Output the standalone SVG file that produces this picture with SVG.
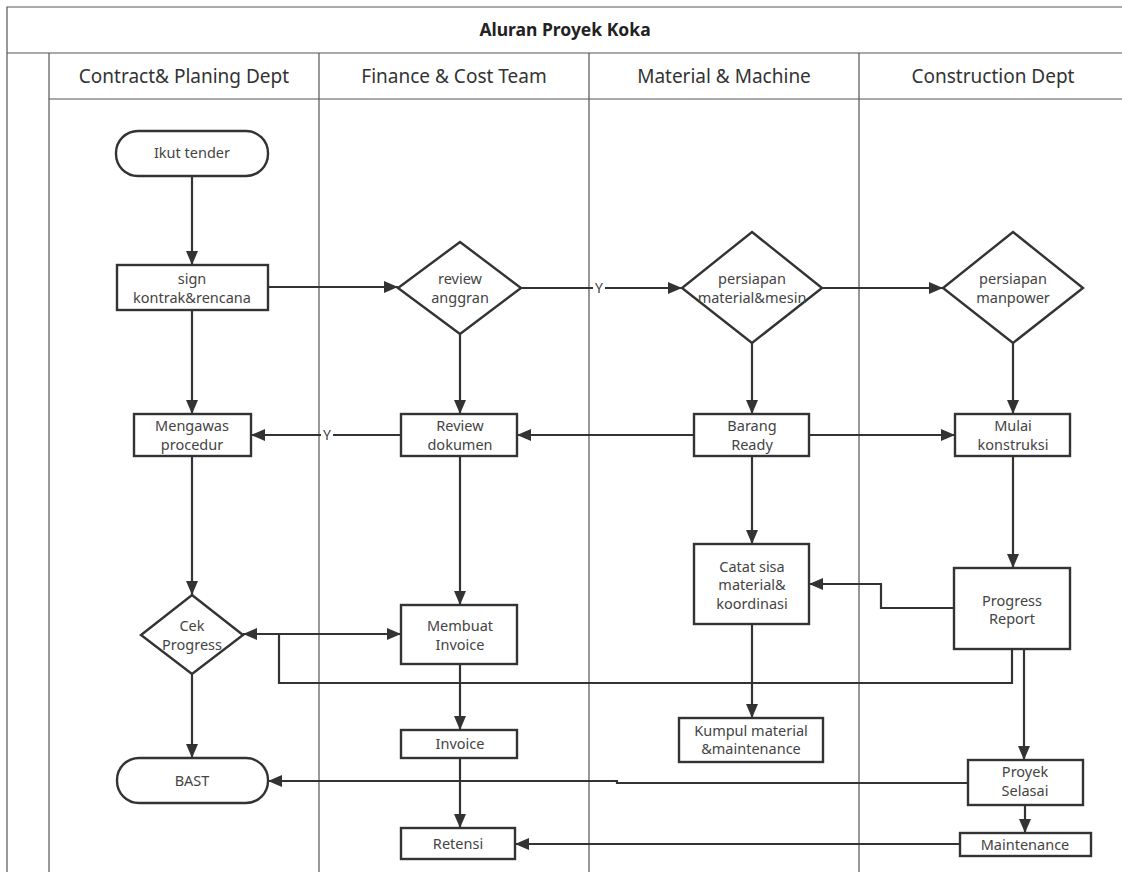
<svg xmlns="http://www.w3.org/2000/svg" width="1122" height="872" viewBox="0 0 1122 872">
<style>
.lane{stroke:#555;stroke-width:1.2;fill:none}
.nd{fill:#fff;stroke:#333;stroke-width:2.4}
.t{font-family:"Noto Sans","Open Sans","Liberation Sans",sans-serif;font-size:14.5px;fill:#444;text-anchor:middle}
.h{font-family:"Noto Sans","Open Sans","Liberation Sans",sans-serif;font-size:19px;fill:#333;text-anchor:middle}
.ttl{font-family:"Noto Sans","Open Sans","Liberation Sans",sans-serif;font-size:17.5px;font-weight:bold;fill:#222;text-anchor:middle}
.c{fill:none;stroke:#333;stroke-width:2.2;marker-end:url(#ah)}
.cn{fill:none;stroke:#333;stroke-width:2.2}
.lbl{font-family:"Noto Sans","Open Sans","Liberation Sans",sans-serif;font-size:14px;fill:#444;text-anchor:middle}
</style>
<defs>
<marker id="ah" markerUnits="userSpaceOnUse" markerWidth="14" markerHeight="12" refX="14" refY="6" orient="auto">
<path d="M0,0 L14,6 L0,12 z" fill="#333"/>
</marker>
</defs>
<rect width="1122" height="872" fill="#fff"/>
<g id="frame">
<path class="lane" d="M7,872 V7 H1122 M7,53 H1122 M49,99 H1122 M49,53 V872 M319,53 V872 M589,53 V872 M859,53 V872"/>
<text class="ttl" x="565" y="36">Aluran Proyek Koka</text>
<text class="h" x="184" y="83">Contract&amp; Planing Dept</text>
<text class="h" x="454" y="83">Finance &amp; Cost Team</text>
<text class="h" x="724" y="83">Material &amp; Machine</text>
<text class="h" x="993" y="83">Construction Dept</text>
</g>
<g id="connectors">
<path class="c" d="M192,176 V265"/>
<path class="c" d="M268,287 H398"/>
<path class="cn" d="M521,288 H593"/>
<path class="c" d="M605,288 H682"/>
<text class="lbl" x="599" y="293">Y</text>
<path class="c" d="M822,288 H943"/>
<path class="c" d="M192,310 V414"/>
<path class="c" d="M460,333 V414"/>
<path class="c" d="M752,342 V414"/>
<path class="c" d="M1013,342 V414"/>
<path class="cn" d="M401,435 H333"/>
<path class="c" d="M321,435 H251"/>
<text class="lbl" x="327" y="440">Y</text>
<path class="c" d="M694,435 H517"/>
<path class="c" d="M809,435 H955"/>
<path class="c" d="M192,456 V595"/>
<path class="c" d="M460,456 V605"/>
<path class="c" d="M752,456 V544"/>
<path class="c" d="M1013,456 V568"/>
<path class="c" d="M954,608 H881 V584 H809"/>
<path class="c" d="M279,634 H401"/>
<path class="c" d="M1012,649 V683 H279 V634 H243"/>
<path class="c" d="M1024,649 V760"/>
<path class="c" d="M752,624 V718"/>
<path class="c" d="M192,674 V758"/>
<path class="c" d="M460,664 V730"/>
<path class="c" d="M460,758 V828"/>
<path class="c" d="M968,783 H617 V781 H268"/>
<path class="c" d="M1025,805 V833"/>
<path class="c" d="M960,844 H515"/>
</g>
<g id="n-ikut">
<rect class="nd" x="116" y="131" width="152" height="45" rx="22"/>
<text class="t" x="192" y="158">Ikut tender</text>
</g>
<g id="n-sign">
<rect class="nd" x="117" y="265" width="151" height="45"/>
<text class="t" x="192" y="284">sign</text>
<text class="t" x="192" y="303">kontrak&amp;rencana</text>
</g>
<g id="n-review-anggran">
<polygon class="nd" points="460,242 521,288 460,334 398,288"/>
<text class="t" x="460" y="284">review</text>
<text class="t" x="460" y="303">anggran</text>
</g>
<g id="n-persiapan-material">
<polygon class="nd" points="752,232 822,288 752,343 682,288"/>
<text class="t" x="752" y="284">persiapan</text>
<text class="t" x="752" y="303">material&amp;mesin</text>
</g>
<g id="n-persiapan-manpower">
<polygon class="nd" points="1013,232 1083,288 1013,343 943,288"/>
<text class="t" x="1013" y="284">persiapan</text>
<text class="t" x="1013" y="303">manpower</text>
</g>
<g id="n-mengawas">
<rect class="nd" x="134" y="414" width="117" height="42"/>
<text class="t" x="192" y="431">Mengawas</text>
<text class="t" x="192" y="450">procedur</text>
</g>
<g id="n-review-dokumen">
<rect class="nd" x="401" y="414" width="116" height="42"/>
<text class="t" x="460" y="431">Review</text>
<text class="t" x="460" y="450">dokumen</text>
</g>
<g id="n-barang">
<rect class="nd" x="694" y="414" width="115" height="42"/>
<text class="t" x="752" y="431">Barang</text>
<text class="t" x="752" y="450">Ready</text>
</g>
<g id="n-mulai">
<rect class="nd" x="955" y="414" width="115" height="42"/>
<text class="t" x="1013" y="431">Mulai</text>
<text class="t" x="1013" y="450">konstruksi</text>
</g>
<g id="n-catat">
<rect class="nd" x="694" y="544" width="115" height="80"/>
<text class="t" x="752" y="572">Catat sisa</text>
<text class="t" x="752" y="590">material&amp;</text>
<text class="t" x="752" y="609">koordinasi</text>
</g>
<g id="n-progress-report">
<rect class="nd" x="954" y="568" width="116" height="81"/>
<text class="t" x="1012" y="606">Progress</text>
<text class="t" x="1012" y="624">Report</text>
</g>
<g id="n-cek">
<polygon class="nd" points="192,595 243,635 192,674 141,635"/>
<text class="t" x="192" y="631">Cek</text>
<text class="t" x="192" y="650">Progress</text>
</g>
<g id="n-membuat">
<rect class="nd" x="401" y="605" width="116" height="59"/>
<text class="t" x="460" y="631">Membuat</text>
<text class="t" x="460" y="650">Invoice</text>
</g>
<g id="n-invoice">
<rect class="nd" x="401" y="730" width="116" height="28"/>
<text class="t" x="460" y="749">Invoice</text>
</g>
<g id="n-kumpul">
<rect class="nd" x="679" y="718" width="144" height="44"/>
<text class="t" x="751" y="736">Kumpul material</text>
<text class="t" x="751" y="754">&amp;maintenance</text>
</g>
<g id="n-bast">
<rect class="nd" x="117" y="758" width="151" height="45" rx="22"/>
<text class="t" x="192" y="786">BAST</text>
</g>
<g id="n-proyek">
<rect class="nd" x="968" y="760" width="115" height="45"/>
<text class="t" x="1025" y="777">Proyek</text>
<text class="t" x="1025" y="796">Selasai</text>
</g>
<g id="n-retensi">
<rect class="nd" x="401" y="828" width="114" height="31"/>
<text class="t" x="458" y="849">Retensi</text>
</g>
<g id="n-maintenance">
<rect class="nd" x="960" y="833" width="131" height="23"/>
<text class="t" x="1025" y="850">Maintenance</text>
</g>
</svg>
